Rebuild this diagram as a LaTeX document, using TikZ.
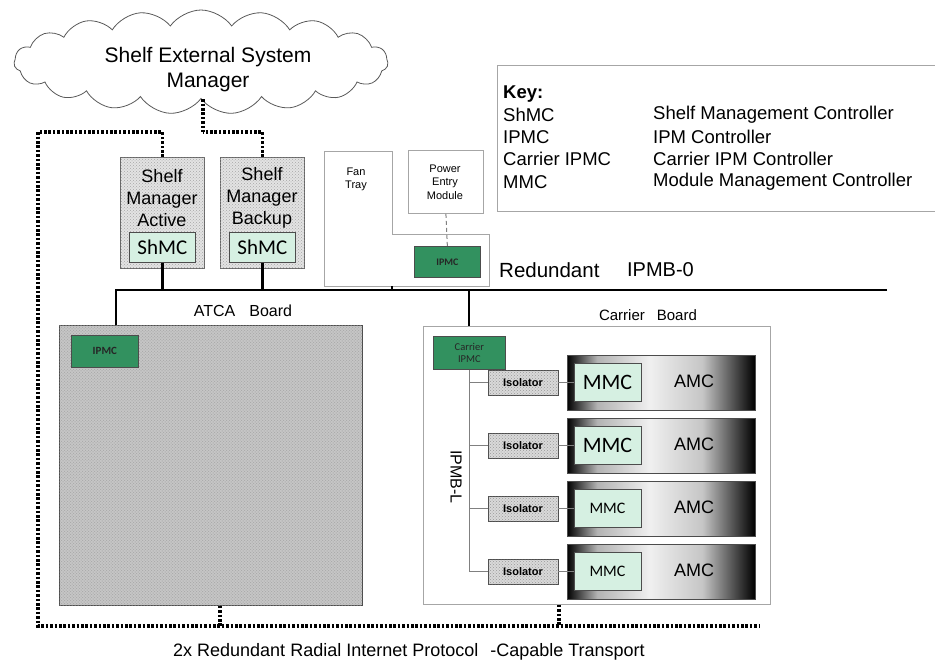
\documentclass[tikz,border=0pt]{standalone}
\usepackage{fontspec}
\setmainfont{Liberation Sans}
\newfontfamily\calfont{Carlito}
\usetikzlibrary{shapes.symbols,patterns}
\definecolor{ipmcgreen}{RGB}{50,145,95}
\definecolor{mint}{RGB}{214,240,226}
\pgfdeclarehorizontalshading{amcshade}{100bp}{color(0bp)=(black); color(25bp)=(black); color(33bp)=(gray!60); color(47bp)=(gray!12); color(61bp)=(gray!45); color(75bp)=(black); color(100bp)=(black)}
\newcommand{\fsz}[2]{\fontsize{#1}{#2}\selectfont}
\tikzset{
 dotline/.style={line width=3.4pt, dash pattern=on 2.6pt off 1.8pt},
 busline/.style={line width=2.8pt},
 thinbox/.style={draw=gray!70, line width=0.8pt, inner sep=0pt, anchor=north west},
 patbox/.style={draw=gray!80!black, line width=0.8pt, fill=gray!22, postaction={pattern=crosshatch dots, pattern color=gray!70}, inner sep=0pt, anchor=north west},
 greenbox/.style={draw=black!70, line width=0.7pt, fill=ipmcgreen, inner sep=0pt, anchor=north west, font=\calfont\bfseries\fsz{11}{12}, text=black!85, align=center},
 mintbox/.style={draw=black!70, line width=0.7pt, fill=mint, inner sep=0pt},
 amcbox/.style={draw=black!70, line width=0.7pt, shading=amcshade, inner sep=0pt},
 isobox/.style={draw=gray!60!black, line width=0.7pt, fill=gray!30, postaction={pattern=crosshatch dots, pattern color=gray!80}, inner sep=0pt, minimum width=70pt, minimum height=25pt, font=\bfseries\fsz{11}{12}},
 ipmbl/.style={draw=gray, line width=1pt},
 lbl/.style={inner sep=0pt, align=center},
 keytxt/.style={inner sep=0pt, anchor=west, font=\fsz{18.5}{20}},
}
\begin{document}
\begin{tikzpicture}[x=1pt,y=-1pt]
\useasboundingbox (0,0) rectangle (935,662);
% cloud
\node[cloud, draw=gray!70!black, line width=0.8pt, cloud puffs=19, cloud puff arc=110, aspect=3.6, minimum width=374pt, minimum height=104pt, inner sep=0pt] (cloud) at (201,62) {};
\node[lbl, font=\fsz{21}{25}] (cloudtxt) at (208,70) {Shelf External System\\Manager};
% shelf managers
\node[patbox, minimum width=84pt, minimum height=111pt] (sma) at (120,157) {};
\node[patbox, minimum width=84pt, minimum height=111pt] (smb) at (220,157) {};
\node[lbl, font=\fsz{18}{22}] (smatxt) at (162,198) {Shelf\\Manager\\Active};
\node[lbl, font=\fsz{18}{22}] (smbtxt) at (262,198) {Shelf\\Manager\\Backup};
\node[mintbox, anchor=north west, minimum width=66pt, minimum height=30pt, font=\calfont\fsz{21}{24}] (shmcA) at (129,232) {ShMC};
\node[mintbox, anchor=north west, minimum width=66pt, minimum height=30pt, font=\calfont\fsz{21}{24}] (shmcB) at (229,232) {ShMC};
% dotted management network
\coordinate (dA) at (38,132);
\coordinate (dB) at (38,626);
\coordinate (dC) at (760,626);
\coordinate (bx1) at (220,626);
\coordinate (bx2) at (559,626);
\draw[dotline] (cloud.south -| 203,0) -- (203,0 |- dA);
\draw[dotline] (sma.north) |- (dA) -- (dB) -- (dC);
\draw[dotline] (smb.north) |- (203,0 |- dA);
% fan tray + PEM
\coordinate (ftb) at (392,286);
\draw[draw=gray!70, line width=0.8pt] (324,151) -- (392,151) -- (392,234) -- (489,234) -- (489,286) -- (324,286) -- cycle;
\node[lbl, font=\fsz{11}{13}] (fantxt) at (356,179) {Fan\\Tray};
\node[thinbox, minimum width=75pt, minimum height=63pt] (pem) at (408,150) {};
\node[lbl, font=\fsz{11}{13.5}] (pemtxt) at (445,182) {Power\\Entry\\Module};
\node[greenbox, minimum width=66pt, minimum height=31pt, font=\calfont\bfseries\fsz{10}{12}] (ipmcF) at (414,246) {IPMC};
\draw[gray, line width=1pt, dash pattern=on 4pt off 3pt] (pem.south) -- (ipmcF.north);
% bus IPMB-0
\coordinate (busR) at (887,290);
\coordinate (atcaTap) at (116,290);
\coordinate (ctap) at (469,290);
\node[lbl, font=\fsz{20.5}{24}, anchor=west] (redtxt) at (499,270) {Redundant};
\node[lbl, font=\fsz{20}{24}, anchor=east] (ipmb0) at (694,270) {IPMB-0};
% ATCA board
\node[patbox, draw=gray!60!black, fill=gray!45, postaction={pattern=crosshatch dots, pattern color=gray!65}, minimum width=303pt, minimum height=280pt] (atca) at (59,325) {};
\node[lbl, font=\fsz{16}{18}] (atcatxt) at (243,311) {ATCA\hspace{14pt}Board};
\node[greenbox, minimum width=67pt, minimum height=32pt] (ipmcA) at (71,335) {IPMC};
\draw[busline] (busR) -- (atcaTap) -- (atcaTap |- atca.north);
\draw[busline] (shmcA.south) -- (shmcA.south |- busR);
\draw[busline] (shmcB.south) -- (shmcB.south |- busR);
\draw[line width=1.3pt] (ftb) -- (ftb |- busR);
% carrier board
\node[thinbox, minimum width=347pt, minimum height=278pt] (carrier) at (423,326) {};
\node[lbl, font=\fsz{15}{18}] (cartxt) at (648,315) {Carrier\hspace{12pt}Board};
\draw[line width=1.8pt] (ctap) -- (ctap |- carrier.north);
\node[greenbox, minimum width=72pt, minimum height=33pt, font=\calfont\fsz{10.5}{11.5}] (cipmc) at (433,336) {Carrier\\IPMC};
\draw[dotline] (atca.south -| bx1) -- (bx1);
\draw[dotline] (carrier.south -| bx2) -- (bx2);
% AMCs
\foreach \i/\y/\m in {1/382.5/22, 2/445.5/22, 3/508.5/16, 4/571.5/16}{
  \node[amcbox, minimum width=188pt, minimum height=55pt] (amc\i) at (661,\y) {};
  \node[mintbox, minimum width=67pt, minimum height=38pt, font=\calfont\fsz{\m}{\m}] (mmc\i) at (607.5,\y) {MMC};
  \node[lbl, font=\fsz{18}{20}] (amctxt\i) at (694,\y-1) {AMC};
  \node[isobox] (iso\i) at (523,\y) {Isolator};
  \draw[ipmbl] (iso\i.east) -- (mmc\i.west);
}
\draw[ipmbl] (cipmc.south) |- (iso4.west);
\foreach \i in {1,2,3}{ \draw[ipmbl] (cipmc.south |- iso\i.west) -- (iso\i.west); }
\node[lbl, font=\fsz{16}{18}, rotate=-90] (ipmbltxt) at (456,477) {IPMB-L};
% key
\draw[gray!70, line width=0.9pt] (935,65) -- (497,65) -- (497,211) -- (935,211);
\node[keytxt, font=\bfseries\fsz{18.5}{20}] (keyt) at (503,94) {Key:};
\foreach \k/\y/\a/\b in {1/115/ShMC/Shelf Management Controller, 2/137/IPMC/IPM Controller, 3/159/Carrier IPMC/Carrier IPM Controller, 4/182/MMC/Module Management Controller}{
  \node[keytxt] (ka\k) at (503,\y) {\a};
  \node[keytxt] (kb\k) at (653,\y) {\b};
}
% bottom caption
\node[lbl, font=\fsz{18}{20}] (caption) at (409,652) {2x Redundant Radial Internet Protocol\hspace{12pt}-Capable Transport};
\end{tikzpicture}
\end{document}
